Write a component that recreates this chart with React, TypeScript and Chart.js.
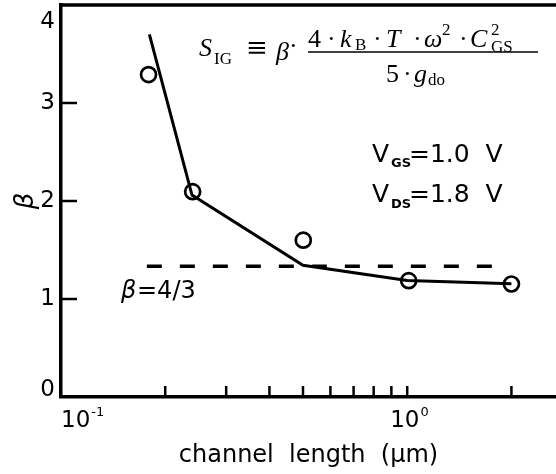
import React, { useEffect, useRef } from 'react';
import { Chart, registerables } from 'chart.js';

Chart.register(...registerables);

// ---- data ----
const modelLength = [0.18, 0.239, 0.5, 1.0, 2.0];
const modelBeta = [3.7, 2.06, 1.345, 1.19, 1.155];
const measuredLength = [0.179, 0.24, 0.501, 1.01, 2.0];
const measuredBeta = [3.29, 2.095, 1.6, 1.187, 1.153];
const longChannelLength = [0.177, 1.86];
const longChannelBeta = [4 / 3, 4 / 3];

const xMin = 0.1;
const xMax = 2.69;
const yMin = 0;
const yMax = 4;
const yTickValues = [0, 1, 2, 3, 4];
const yTickLabels = ['0', '1', '2', '3', '4'];
const xTickMarks = [0.2, 0.3, 0.4, 0.5, 0.6, 0.7, 0.8, 0.9, 1, 2];
const xDecadeValues = [0.1, 1];
const xDecadeExponents = ['-1', '0'];

const xTitle = 'channel  length  (\u03bcm)';
const yTitle = '\u03b2';
const betaLabel = ['\u03b2', '=4/3'];
const vgsLabel = ['V', 'GS', '=1.0  V'];
const vdsLabel = ['V', 'DS', '=1.8  V'];

const SANS = '"DejaVu Sans"';
const SERIF = '"Liberation Serif"';

type Run = { t: string; f: string; x: number; dy?: number };

function drawRuns(ctx: CanvasRenderingContext2D, runs: Run[], baseline: number) {
  ctx.textAlign = 'left';
  ctx.textBaseline = 'alphabetic';
  for (const r of runs) {
    ctx.font = r.f;
    ctx.fillText(r.t, r.x, baseline + (r.dy || 0));
  }
}

const decorPlugin = {
  id: 'decor',
  afterDraw(chart: any) {
    const { ctx, chartArea: a, scales } = chart;
    const xs = scales.x;
    const ys = scales.y;
    ctx.save();
    ctx.strokeStyle = '#000';
    ctx.fillStyle = '#000';
    ctx.lineCap = 'butt';

    // top frame line
    ctx.lineWidth = 3.5;
    ctx.beginPath();
    ctx.moveTo(a.left - 1.5, a.top);
    ctx.lineTo(a.right, a.top);
    ctx.stroke();

    // inward tick marks
    ctx.lineWidth = 2.5;
    for (const v of xTickMarks) {
      const px = xs.getPixelForValue(v);
      ctx.beginPath();
      ctx.moveTo(px, a.bottom);
      ctx.lineTo(px, a.bottom - 11);
      ctx.stroke();
    }
    for (const v of yTickValues) {
      if (v === yMin || v === yMax) continue;
      const py = ys.getPixelForValue(v);
      ctx.beginPath();
      ctx.moveTo(a.left, py);
      ctx.lineTo(a.left + 16, py);
      ctx.stroke();
    }

    // y tick labels
    ctx.font = `23px ${SANS}`;
    ctx.textAlign = 'right';
    ctx.textBaseline = 'middle';
    yTickValues.forEach((v, i) => {
      const py = Math.min(Math.max(ys.getPixelForValue(v), a.top + 17), a.bottom - 7);
      ctx.fillText(yTickLabels[i], a.left - 6, py);
    });

    // x decade labels with superscript exponent
    ctx.textAlign = 'left';
    ctx.textBaseline = 'alphabetic';
    xDecadeValues.forEach((v, i) => {
      const px = xs.getPixelForValue(v);
      ctx.font = `23px ${SANS}`;
      const w = ctx.measureText('10').width;
      const sx = Math.max(px - 17, a.left);
      ctx.fillText('10', sx, a.bottom + 30);
      ctx.font = `13px ${SANS}`;
      ctx.fillText(xDecadeExponents[i], sx + w + 1, a.bottom + 19);
    });

    // annotations: operating point
    drawRuns(ctx, [
      { t: vgsLabel[0], f: `25px ${SANS}`, x: 372 },
      { t: vgsLabel[1], f: `bold 13px ${SANS}`, x: 391, dy: 5 },
      { t: vgsLabel[2], f: `25px ${SANS}`, x: 409 },
    ], 162);
    drawRuns(ctx, [
      { t: vdsLabel[0], f: `25px ${SANS}`, x: 372 },
      { t: vdsLabel[1], f: `bold 13px ${SANS}`, x: 391, dy: 6 },
      { t: vdsLabel[2], f: `25px ${SANS}`, x: 409 },
    ], 202);

    // beta = 4/3 label
    drawRuns(ctx, [
      { t: betaLabel[0], f: `italic 24px ${SANS}`, x: 121 },
      { t: betaLabel[1], f: `24px ${SANS}`, x: 137 },
    ], 298);

    // formula
    const M = `26px ${SERIF}`;
    const MI = `italic 26px ${SERIF}`;
    const SS = `17px ${SERIF}`;
    drawRuns(ctx, [
      { t: 'S', f: MI, x: 199 },
      { t: 'IG', f: SS, x: 214, dy: 8 },
      { t: '\u2261', f: `26px "DejaVu Serif"`, x: 246, dy: 0 },
      { t: '\u03b2', f: MI, x: 276, dy: 4 },
      { t: '\u00b7', f: M, x: 289, dy: -2 },
    ], 56);
    // numerator
    drawRuns(ctx, [
      { t: '4', f: M, x: 308 },
      { t: '\u00b7', f: M, x: 327 },
      { t: 'k', f: MI, x: 340 },
      { t: 'B', f: SS, x: 355, dy: 3 },
      { t: '\u00b7', f: M, x: 373 },
      { t: 'T', f: MI, x: 386 },
      { t: '\u00b7', f: M, x: 413 },
      { t: '\u03c9', f: MI, x: 424 },
      { t: '2', f: SS, x: 442, dy: -12 },
      { t: '\u00b7', f: M, x: 459 },
      { t: 'C', f: MI, x: 470 },
      { t: '2', f: SS, x: 491, dy: -12 },
      { t: 'GS', f: SS, x: 491, dy: 5 },
    ], 47);
    // fraction bar
    ctx.lineWidth = 1.3;
    ctx.beginPath();
    ctx.moveTo(308, 52);
    ctx.lineTo(538, 52);
    ctx.stroke();
    // denominator
    drawRuns(ctx, [
      { t: '5', f: M, x: 386 },
      { t: '\u00b7', f: M, x: 403 },
      { t: 'g', f: MI, x: 414 },
      { t: 'do', f: SS, x: 428, dy: 3 },
    ], 82);

    ctx.restore();
  },
};

export default function App() {
  const ref = useRef<HTMLCanvasElement | null>(null);
  useEffect(() => {
    if (!ref.current) return;
    Chart.defaults.font.family = SANS;
    const chart = new Chart(ref.current, {
      type: 'line',
      data: {
        datasets: [
          {
            label: 'model',
            data: modelLength.map((x, i) => ({ x, y: modelBeta[i] })),
            borderColor: '#000',
            borderWidth: 3,
            pointRadius: 0,
            tension: 0,
            fill: false,
          },
          {
            label: 'long channel',
            data: longChannelLength.map((x, i) => ({ x, y: longChannelBeta[i] })),
            borderColor: '#000',
            borderWidth: 3.5,
            borderDash: [15, 18],
            pointRadius: 0,
            fill: false,
          },
          {
            label: 'measured',
            data: measuredLength.map((x, i) => ({ x, y: measuredBeta[i] })),
            showLine: false,
            pointRadius: 7.5,
            pointBorderWidth: 2.7,
            pointBorderColor: '#000',
            pointBackgroundColor: 'rgba(0,0,0,0)',
            borderColor: '#000',
          },
        ],
      },
      options: {
        responsive: false,
        animation: false,
        layout: { autoPadding: false, padding: { top: 5, right: 0, bottom: 0, left: 0 } },
        plugins: { legend: { display: false }, tooltip: { enabled: false } },
        scales: {
          x: {
            type: 'logarithmic',
            min: xMin,
            max: xMax,
            grid: { display: false },
            ticks: { display: false },
            border: { display: true, color: '#000', width: 3.5 },
            title: {
              display: true,
              text: xTitle,
              color: '#000',
              font: { family: SANS, size: 24 },
              padding: { top: 0, bottom: 4 },
            },
            afterFit: (s: any) => {
              s.height = 77;
            },
          },
          y: {
            type: 'linear',
            min: yMin,
            max: yMax,
            grid: { display: false },
            ticks: { display: false },
            border: { display: true, color: '#000', width: 3.5 },
            title: {
              display: true,
              text: yTitle,
              color: '#000',
              font: { family: SANS, size: 26, style: 'italic' },
              padding: { top: 11, bottom: 0 },
            },
            afterFit: (s: any) => {
              s.width = 61;
            },
          },
        },
      },
      plugins: [decorPlugin],
    } as any);
    return () => chart.destroy();
  }, []);
  return (
    <div style={{ position: 'absolute', left: 0, top: 0, width: 556, height: 474, background: '#fff' }}>
      <canvas ref={ref} width={556} height={474} style={{ display: 'block' }} />
    </div>
  );
}
